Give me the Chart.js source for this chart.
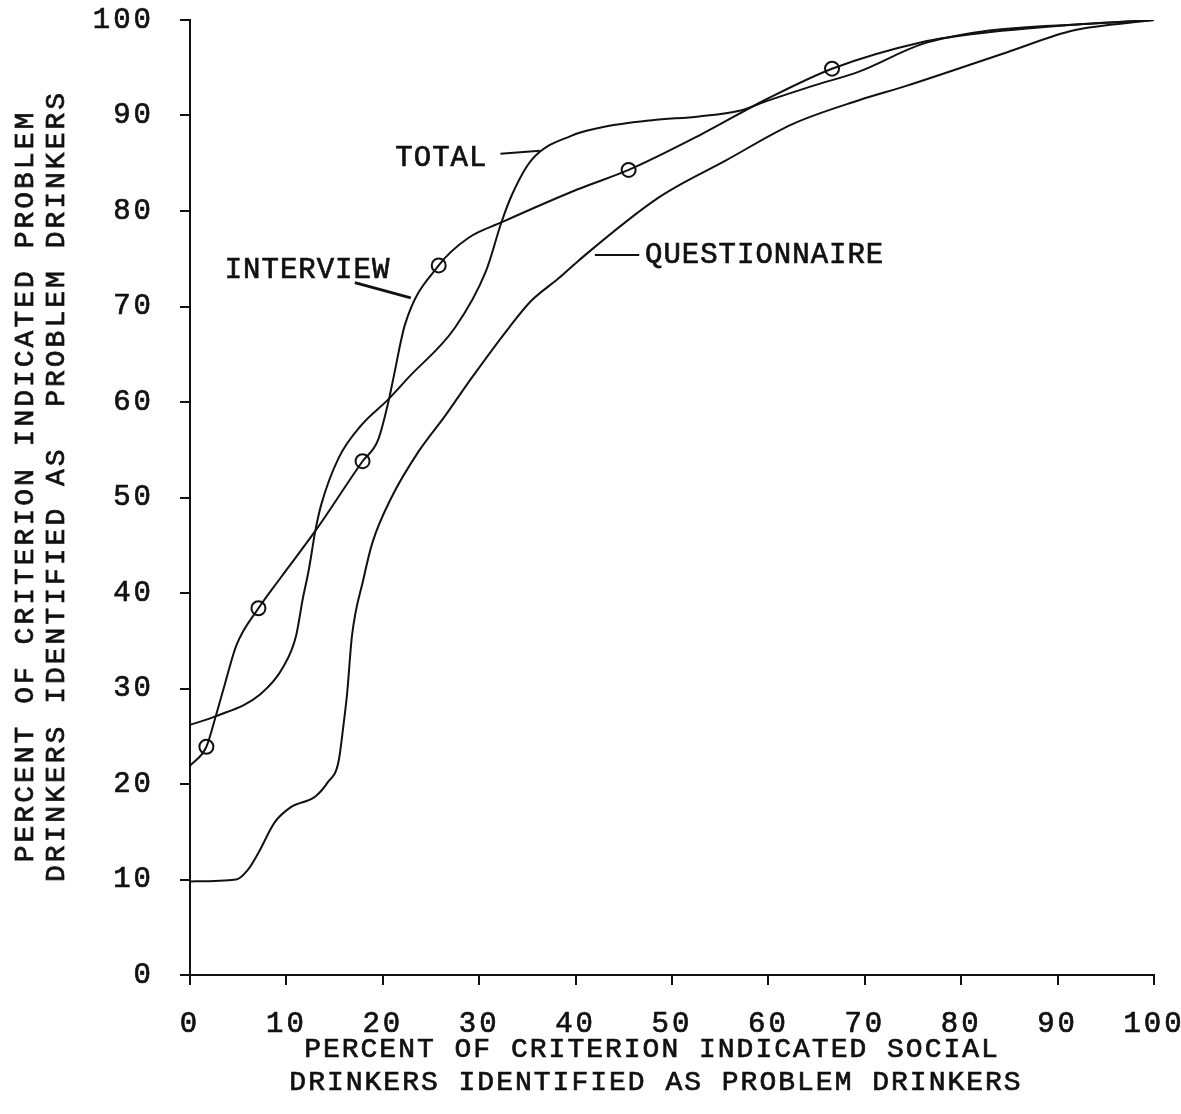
<!DOCTYPE html>
<html>
<head>
<meta charset="utf-8">
<script src="https://cdn.jsdelivr.net/npm/chart.js@4.4.1/dist/chart.umd.min.js"></script>
<style>
  html, body { margin: 0; padding: 0; background: #fff; }
  canvas { display: block; }
</style>
</head>
<body>
<canvas id="chart" width="1181" height="1114"></canvas>
<script>
// values (percent)
const interviewX = [0, 1.7, 2.7, 3.6, 4.8, 7.1, 9.4, 13.0, 17.9, 19.5, 20.6, 21.1, 22.3, 25.8, 28.9, 32.3, 40.3, 45.5, 52.8, 59.8, 66.6, 76.0, 81.0, 91.6, 100];
const interviewY = [21.9, 23.9, 27.2, 30.4, 34.5, 38.4, 41.6, 46.5, 53.8, 56.0, 60.1, 62.5, 68.1, 74.3, 77.2, 78.8, 82.3, 84.3, 87.9, 91.7, 94.9, 97.7, 98.5, 99.5, 100];
// circled points on the interview curve
const markX = [1.7, 7.1, 17.9, 25.8, 45.5, 66.6];
const markY = [23.9, 38.4, 53.8, 74.3, 84.3, 94.9];

const totalX = [0, 2.7, 7.3, 9.7, 11.0, 11.7, 12.3, 13.0, 13.6, 15.4, 17.8, 20.6, 22.7, 27.5, 30.7, 32.3, 33.4, 35.4, 39.6, 42.4, 47.9, 52.8, 57.0, 59.8, 64.6, 69.4, 76.0, 82.2, 93.3, 100];
const totalY = [26.2, 27.1, 29.4, 32.3, 35.5, 39.4, 42.3, 46.5, 49.2, 54.1, 57.6, 60.3, 62.6, 67.8, 73.7, 78.8, 81.7, 85.3, 87.9, 88.7, 89.5, 89.9, 90.5, 91.5, 93.1, 94.6, 97.5, 98.8, 99.6, 100];

const questX = [0, 4.8, 6.0, 7.1, 8.8, 10.5, 13.0, 14.3, 15.4, 15.9, 16.3, 16.8, 18.0, 18.9, 20.9, 23.7, 26.5, 29.2, 33.1, 35.4, 38.3, 40.3, 48.6, 55.6, 62.5, 69.4, 74.3, 84.7, 91.6, 100];
const questY = [9.8, 10.0, 11.0, 12.8, 16.0, 17.6, 18.7, 20.2, 22.3, 26.0, 29.5, 35.5, 41.5, 45.2, 50.0, 54.8, 58.6, 62.5, 67.8, 70.6, 73.0, 74.8, 81.4, 85.3, 89.1, 91.6, 93.1, 96.6, 98.9, 100];

const tickValues = [0, 10, 20, 30, 40, 50, 60, 70, 80, 90, 100];

const xTitle = ["PERCENT OF CRITERION INDICATED SOCIAL", "DRINKERS IDENTIFIED AS PROBLEM DRINKERS"];
const yTitle = ["PERCENT OF CRITERION INDICATED PROBLEM", "DRINKERS IDENTIFIED AS  PROBLEM DRINKERS"];

// curve labels with their leader strokes (data units)
const notes = [
  { text: "TOTAL", x: 21.3, y: 85.5, line: [32.2, 86.0, 36.3, 86.3], w: 2 },
  { text: "INTERVIEW", x: 3.6, y: 73.8, line: [17.1, 72.5, 22.9, 70.9], w: 3 },
  { text: "QUESTIONNAIRE", x: 47.2, y: 75.4, line: [42.0, 75.4, 46.6, 75.4], w: 2 },
];

const FONT = '"Liberation Mono", "Courier New", monospace';
const toPts = (xs, ys) => xs.map((v, i) => ({ x: v, y: ys[i] }));

const curve = (data) => ({
  data,
  showLine: true,
  borderColor: "#111",
  borderWidth: 2,
  pointRadius: 0,
  cubicInterpolationMode: "monotone",
  fill: false,
});

// heavier typewriter look: fill + thin stroke
const inkText = (ctx, s, px, py) => {
  ctx.fillText(s, px, py);
  ctx.strokeText(s, px, py);
};

const notesPlugin = {
  id: "notes",
  beforeDraw(chart) {
    chart.ctx.letterSpacing = "3px";
  },
  afterDraw(chart) {
    const { ctx, scales: { x, y } } = chart;
    ctx.save();
    ctx.fillStyle = "#111";
    ctx.strokeStyle = "#111";
    ctx.textBaseline = "middle";
    ctx.textAlign = "left";
    ctx.font = "29px " + FONT;
    ctx.letterSpacing = "1px";
    for (const n of notes) {
      ctx.lineWidth = 0.7;
      inkText(ctx, n.text, x.getPixelForValue(n.x), y.getPixelForValue(n.y));
      ctx.lineWidth = n.w;
      ctx.beginPath();
      ctx.moveTo(x.getPixelForValue(n.line[0]), y.getPixelForValue(n.line[1]));
      ctx.lineTo(x.getPixelForValue(n.line[2]), y.getPixelForValue(n.line[3]));
      ctx.stroke();
    }
    // x axis title
    ctx.lineWidth = 0.7;
    ctx.textAlign = "center";
    ctx.font = "28px " + FONT;
    ctx.letterSpacing = "2px";
    inkText(ctx, xTitle[0], 652, 1050);
    inkText(ctx, xTitle[1], 656, 1083);
    // y axis title, rotated
    ctx.save();
    ctx.translate(0, 486);
    ctx.rotate(-Math.PI / 2);
    ctx.letterSpacing = "3px";
    inkText(ctx, yTitle[0], 0, 26);
    inkText(ctx, yTitle[1], 0, 57);
    ctx.restore();
    ctx.restore();
  },
};

const noPad = (s) => {
  s.paddingTop = 0;
  s.paddingBottom = 0;
  s.paddingLeft = 0;
  s.paddingRight = 0;
};

const axisStyle = {
  type: "linear",
  min: 0,
  max: 100,
  border: { display: true, color: "#111", width: 2 },
  grid: { drawOnChartArea: false, drawTicks: true, tickLength: 10, tickColor: "#111", lineWidth: 2 },
  afterBuildTicks: (s) => { s.ticks = tickValues.map((v) => ({ value: v })); },
};

const tickFont = { size: 29, family: FONT };

new Chart(document.getElementById("chart"), {
  type: "scatter",
  data: {
    datasets: [
      curve(toPts(interviewX, interviewY)),
      curve(toPts(totalX, totalY)),
      curve(toPts(questX, questY)),
      {
        data: toPts(markX, markY),
        showLine: false,
        pointStyle: "circle",
        pointRadius: 7,
        pointBorderWidth: 2,
        pointBorderColor: "#111",
        pointBackgroundColor: "rgba(255,255,255,0)",
      },
    ],
  },
  plugins: [notesPlugin],
  options: {
    responsive: false,
    animation: false,
    layout: { padding: { top: 20, right: 27, left: 0, bottom: 0 } },
    scales: {
      x: {
        ...axisStyle,
        position: "bottom",
        afterFit: (s) => { s.height = 139; noPad(s); },
        ticks: { color: "#111", textStrokeColor: "#111", textStrokeWidth: 0.7, padding: 22, maxRotation: 0, font: tickFont },
      },
      y: {
        ...axisStyle,
        position: "left",
        afterFit: (s) => { s.width = 190; noPad(s); },
        ticks: { color: "#111", textStrokeColor: "#111", textStrokeWidth: 0.7, padding: 26, font: tickFont },
      },
    },
    plugins: {
      legend: { display: false },
      tooltip: { enabled: false },
    },
  },
});
</script>
</body>
</html>
